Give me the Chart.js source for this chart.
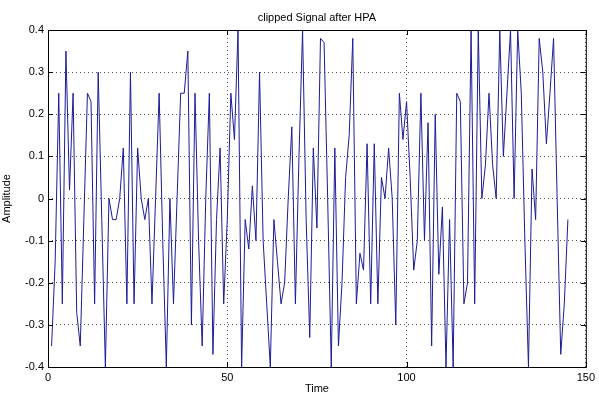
<!DOCTYPE html>
<html>
<head>
<meta charset="utf-8">
<script src="https://cdn.jsdelivr.net/npm/chart.js@4"></script>
<style>
  html, body { margin: 0; padding: 0; background: #fff; }
  #wrap { width: 599px; height: 396px; }
</style>
</head>
<body>
<div id="wrap"><canvas id="sigChart" width="599" height="396"></canvas></div>
<script>
// clipped signal samples (t = 1..145)
const firstTime = 1;
const amplitude = [
  -0.35, -0.15, 0.25, -0.25, 0.35, 0.02, 0.25, -0.27, -0.35, -0.05,
  0.25, 0.23, -0.25, 0.30, -0.05, -0.40, 0.00, -0.05, -0.05, 0.00,
  0.12, -0.25, 0.30, -0.25, 0.12, 0.00, -0.05, 0.00, -0.25, 0.00,
  0.25, -0.10, -0.40, 0.00, -0.25, 0.00, 0.25, 0.25, 0.35, -0.30,
  0.25, -0.10, -0.35, 0.00, 0.25, -0.37, -0.05, 0.12, -0.25, -0.05,
  0.25, 0.14, 0.40, -0.40, -0.05, -0.12, 0.03, -0.10, 0.30, -0.10,
  -0.25, -0.40, -0.05, -0.15, -0.25, -0.20, 0.00, 0.17, -0.25, 0.10,
  0.40, -0.05, -0.33, 0.12, -0.07, 0.38, 0.37, 0.00, -0.40, 0.12,
  -0.35, -0.20, 0.05, 0.15, 0.38, -0.25, -0.13, -0.17, 0.13, -0.25,
  0.13, -0.25, 0.05, 0.00, 0.12, 0.00, -0.30, 0.25, 0.14, 0.23,
  0.05, -0.17, -0.10, 0.25, -0.10, 0.18, -0.35, 0.20, -0.18, -0.02,
  -0.40, -0.05, -0.40, 0.25, 0.23, -0.25, -0.20, 0.40, -0.25, 0.40,
  0.00, 0.08, 0.25, 0.08, 0.00, 0.40, 0.10, 0.25, 0.40, 0.00,
  0.40, 0.25, -0.10, -0.40, 0.07, -0.05, 0.38, 0.30, 0.13, 0.25,
  0.38, 0.00, -0.37, -0.25, -0.05
];
const xTicks = [0, 50, 100, 150];
const yTicks = [-0.4, -0.3, -0.2, -0.1, 0, 0.1, 0.2, 0.3, 0.4];

const points = amplitude.map((v, i) => ({ x: firstTime + i, y: v }));

const font = { family: 'Arial, "Liberation Sans", sans-serif', size: 11 };

// axes box + title, matlab style
const boxPlugin = {
  id: 'box',
  afterDraw(chart) {
    const { ctx, chartArea: a } = chart;
    ctx.save();
    ctx.strokeStyle = '#000';
    ctx.lineWidth = 1;
    ctx.strokeRect(a.left + 0.5, a.top + 0.5, a.right - a.left, a.bottom - a.top);
    // inward ticks
    const xs = chart.scales.x, ys = chart.scales.y;
    ctx.beginPath();
    xTicks.forEach(t => {
      const px = Math.round(xs.getPixelForValue(t)) + 0.5;
      ctx.moveTo(px, a.bottom); ctx.lineTo(px, a.bottom - 5);
      ctx.moveTo(px, a.top); ctx.lineTo(px, a.top + 5);
    });
    yTicks.forEach(t => {
      const py = Math.round(ys.getPixelForValue(t)) + 0.5;
      ctx.moveTo(a.left, py); ctx.lineTo(a.left + 5, py);
      ctx.moveTo(a.right, py); ctx.lineTo(a.right - 5, py);
    });
    ctx.stroke();
    ctx.fillStyle = '#000';
    ctx.font = '11px Arial, "Liberation Sans", sans-serif';
    ctx.textAlign = 'center';
    ctx.textBaseline = 'alphabetic';
    ctx.fillText('clipped Signal after HPA', (a.left + a.right) / 2, 21);
    ctx.restore();
  }
};

new Chart(document.getElementById('sigChart'), {
  type: 'line',
  data: {
    datasets: [{
      data: points,
      borderColor: '#1c1c96',
      borderWidth: 1,
      pointRadius: 0,
      tension: 0,
      fill: false
    }]
  },
  options: {
    responsive: false,
    animation: false,
    layout: { padding: { top: 30, right: 9, left: 0, bottom: 0 } },
    plugins: { legend: { display: false }, tooltip: { enabled: false } },
    scales: {
      x: {
        type: 'linear',
        min: 0, max: 150,
        afterBuildTicks: s => { s.ticks = xTicks.map(v => ({ value: v })); },
        afterFit: s => { s.height = 29; },
        ticks: { color: '#000', font, padding: 4, maxRotation: 0 },
        grid: { color: '#555', drawTicks: false, lineWidth: 1 },
        border: { display: false, dash: [1, 3] },
        title: { display: true, text: 'Time', color: '#000', font, padding: { top: 5, bottom: 0 } }
      },
      y: {
        min: -0.4, max: 0.4,
        afterBuildTicks: s => { s.ticks = yTicks.map(v => ({ value: v })); },
        afterFit: s => { s.width = 48; },
        ticks: { color: '#000', font, padding: 4,
          callback: v => (Math.abs(v) < 1e-9 ? '0' : String(Math.round(v * 10) / 10)) },
        grid: { color: '#555', drawTicks: false, lineWidth: 1 },
        border: { display: false, dash: [1, 3] },
        title: { display: true, text: 'Amplitude', color: '#000', font, padding: { top: 0, bottom: 0 } }
      }
    }
  },
  plugins: [boxPlugin]
});
</script>
</body>
</html>
